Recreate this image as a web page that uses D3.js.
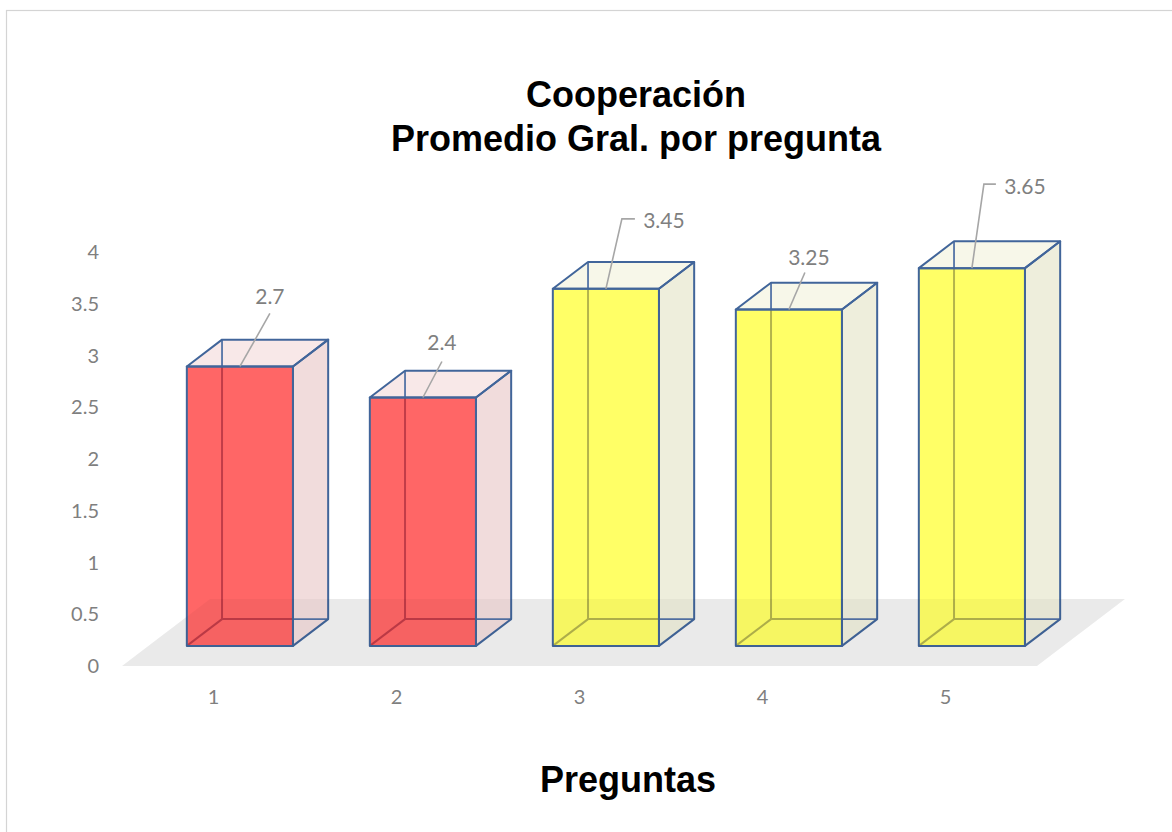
<!DOCTYPE html>
<html>
<head>
<meta charset="utf-8">
<script src="https://cdn.jsdelivr.net/npm/d3@7"></script>
<style>
  html, body { margin: 0; padding: 0; background: #fff; }
  svg { display: block; }
</style>
</head>
<body>
<svg id="chart" width="1172" height="832"></svg>
<script>
// Average score per question
const categories = ["1", "2", "3", "4", "5"];
const values = [2.7, 2.4, 3.45, 3.25, 3.65];
const yTicks = [0, 0.5, 1, 1.5, 2, 2.5, 3, 3.5, 4];
const titleLines = ["Cooperación", "Promedio Gral. por pregunta"];
const xTitle = "Preguntas";

// Hand-placed data label offsets from each bar's front-top edge: [text dx, text dy, leader path]
const labelLayout = [
  { text: [30, -70], leader: [[30, -53]] },
  { text: [19, -55], leader: [[19, -36]] },
  { text: [58, -68], leader: [[29, -70], [16, -70]] },
  { text: [20, -52], leader: [[16, -37]] },
  { text: [53, -81], leader: [[24, -84], [12, -84]] }
];

const svg = d3.select("#chart");
const W = 1172, H = 832;

// Chart area border
svg.append("rect")
  .attr("x", 6.5).attr("y", 10.5)
  .attr("width", W + 20).attr("height", H + 20)
  .attr("fill", "none").attr("stroke", "#d4d4d4").attr("stroke-width", 1.2);

// Scales: floor front edge runs along x, value axis is measured from the floor front
const x = d3.scaleBand().domain(categories).range([122, 1037])
  .paddingInner(0.42).paddingOuter(0.21);
const y = d3.scaleLinear().domain([0, 4]).range([666, 252]);
const color = d3.scaleThreshold().domain([3]).range(["red", "yellow"]);

// Oblique depth projection of the floor
const depth = { dx: 88, dy: -67 };
const dFront = 0.3, dBack = 0.7;
const P = (px, v, d) => [px + depth.dx * d, y(v) + depth.dy * d];

const palette = {
  red:    { front: "#ff6666", side: "#f1dcdc", top: "#f8e8e8", inner: "#c23c48" },
  yellow: { front: "#ffff66", side: "#eeeedc", top: "#f7f7e9", inner: "#b4b44c" }
};
const edge = "#41659a";

const line = d3.line();
const poly = pts => line(pts) + "Z";
const floorPts = [P(122, 0, 0), P(1037, 0, 0), P(1037, 0, 1), P(122, 0, 1)];

// Floor
svg.append("path").attr("d", poly(floorPts)).attr("fill", "#f3f3f3");

const defs = svg.append("defs");
const bars = svg.append("g").attr("class", "bars");

categories.forEach((c, i) => {
  const v = values[i];
  const pal = palette[color(v)];
  const xl = x(c), xr = x(c) + x.bandwidth();
  const FBL = P(xl, 0, dFront), FBR = P(xr, 0, dFront);
  const FTL = P(xl, v, dFront), FTR = P(xr, v, dFront);
  const BBL = P(xl, 0, dBack),  BBR = P(xr, 0, dBack);
  const BTL = P(xl, v, dBack),  BTR = P(xr, v, dBack);
  const g = bars.append("g");

  // translucent top and side faces
  g.append("path").attr("d", poly([FTL, FTR, BTR, BTL])).attr("fill", pal.top);
  g.append("path").attr("d", poly([FTR, BTR, BBR, FBR])).attr("fill", pal.side);

  // back edges showing through the faces
  const hidden = [[BTL, BBL], [BBL, BBR], [FBL, BBL]];
  hidden.forEach(seg => g.append("path").attr("d", line(seg))
    .attr("stroke", "#5373a6").attr("stroke-width", 1.8).attr("fill", "none"));

  // front face
  g.append("path").attr("d", poly([FTL, FTR, FBR, FBL])).attr("fill", pal.front);

  // back edges seen through the coloured front face
  const clipId = "front-clip-" + i;
  defs.append("clipPath").attr("id", clipId)
    .append("path").attr("d", poly([FTL, FTR, FBR, FBL]));
  const inner = g.append("g").attr("clip-path", `url(#${clipId})`);
  hidden.forEach(seg => inner.append("path").attr("d", line(seg))
    .attr("stroke", pal.inner).attr("stroke-width", 2).attr("fill", "none"));

  // visible outline
  const outline = [
    poly([FTL, FTR, FBR, FBL]),
    poly([FTL, FTR, BTR, BTL]),
    poly([FTR, BTR, BBR, FBR])
  ];
  outline.forEach(d => g.append("path").attr("d", d)
    .attr("fill", "none").attr("stroke", edge).attr("stroke-width", 2)
    .attr("stroke-linejoin", "round"));
});

// Floor tint showing through the translucent bar bases
svg.append("path").attr("d", poly(floorPts))
  .attr("fill", "#000").attr("fill-opacity", 0.035);

// Value axis labels
svg.append("g").selectAll("text").data(yTicks).join("text")
  .attr("x", 99).attr("y", d => y(d))
  .attr("dy", "0.35em").attr("text-anchor", "end")
  .attr("font-family", "Lato, 'Open Sans', sans-serif").attr("font-size", 20)
  .attr("fill", "#7f7f7f")
  .text(d => d);

// Category labels along the floor front edge
svg.append("g").selectAll("text").data(categories).join("text")
  .attr("x", d => x(d) + x.bandwidth() / 2).attr("y", 697)
  .attr("dy", "0.35em").attr("text-anchor", "middle")
  .attr("font-family", "Lato, 'Open Sans', sans-serif").attr("font-size", 20)
  .attr("fill", "#7f7f7f")
  .text(d => d);

// Data labels with leader lines
const labels = svg.append("g");
categories.forEach((c, i) => {
  const v = values[i];
  const a = P(x(c) + x.bandwidth() / 2, v, dFront);
  const lay = labelLayout[i];
  const pts = [a].concat(lay.leader.slice().reverse().map(o => [a[0] + o[0], a[1] + o[1]]));
  labels.append("path").attr("d", line(pts))
    .attr("fill", "none").attr("stroke", "#a6a6a6").attr("stroke-width", 1.6);
  labels.append("text")
    .attr("x", a[0] + lay.text[0]).attr("y", a[1] + lay.text[1])
    .attr("dy", "0.35em").attr("text-anchor", "middle")
    .attr("font-family", "Lato, 'Open Sans', sans-serif").attr("font-size", 21)
    .attr("fill", "#7f7f7f")
    .text(v);
});

// Titles
svg.append("g").selectAll("text").data(titleLines).join("text")
  .attr("x", 636).attr("y", (d, i) => 107 + i * 44)
  .attr("text-anchor", "middle")
  .attr("font-family", "'Liberation Sans', Arial, sans-serif")
  .attr("font-weight", "bold").attr("font-size", 36)
  .attr("fill", "#000")
  .text(d => d);

svg.append("text")
  .attr("x", 628).attr("y", 792)
  .attr("text-anchor", "middle")
  .attr("font-family", "'Liberation Sans', Arial, sans-serif")
  .attr("font-weight", "bold").attr("font-size", 36)
  .attr("fill", "#000")
  .text(xTitle);
</script>
</body>
</html>
